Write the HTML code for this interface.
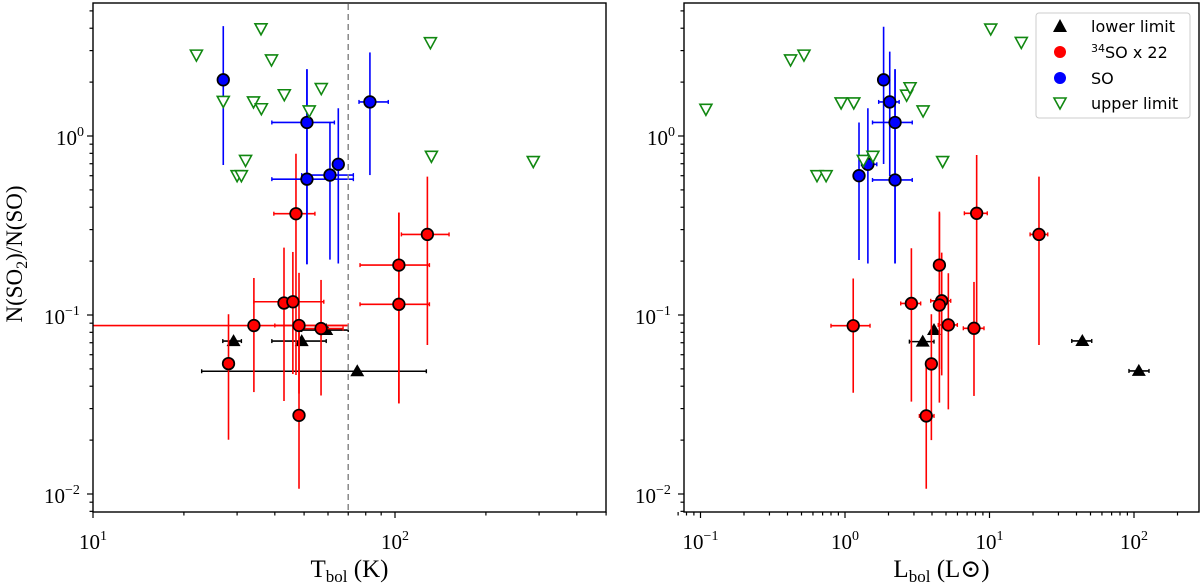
<!DOCTYPE html>
<html><head><meta charset="utf-8"><style>
html,body{margin:0;padding:0;background:#fff;}
svg{display:block;}
</style></head><body>
<svg id="chart" width="1200" height="588" xmlns="http://www.w3.org/2000/svg">
<defs>
<clipPath id="clipL"><rect x="93" y="3" width="513" height="509"/></clipPath>
<clipPath id="clipR"><rect x="684" y="3" width="515" height="509"/></clipPath>
</defs>
<g id="panelL"></g>
<g id="panelR"></g>
</svg>
<script>
// ---- Left panel data (Tbol) ----
const redT = [28.1,34.1,42.9,45.9,48.1,48.1,47.0,56.9,103,103,128];
const redTR = [0.0535,0.0873,0.1167,0.1186,0.0874,0.0275,0.368,0.0840,0.190,0.1148,0.282];
const redTlo = [null,5,null,34.1,40,null,39.7,49.1,76.6,76.6,105];
const redThi = [null,70,null,58.1,70,null,54.3,67.3,130,130,151];
const redTRlo = [0.0201,0.0371,0.0331,0.0468,0.0364,0.0107,0.0462,0.0355,0.0321,0.0321,0.068];
const redTRhi = [0.101,0.161,0.238,0.225,0.172,0.0868,0.796,0.157,0.373,0.373,0.593];
const blackT = [29.2,49.1,59.2,75.0];
const blackTR = [0.0715,0.0715,0.0824,0.0485];
const blackTlo = [26.9,39.1,49.1,22.9];
const blackThi = [31.0,59.2,70,127];
const blueT = [27.0,51.1,51.1,60.9,64.9,82.6];
const blueTR = [2.06,1.19,0.574,0.605,0.695,1.55];
const blueTlo = [null,39.1,39.1,49.1,null,76.0];
const blueThi = [null,63.0,72.8,72.8,null,95.0];
const blueTRlo = [0.689,0.192,0.192,0.204,0.194,0.605];
const blueTRhi = [4.11,2.36,2.36,1.20,1.43,2.93];
const greenT = [22,27,36,39,34,36.1,43,57,52,32,30,31,131,132,287];
const greenTR = [2.83,1.56,3.97,2.66,1.55,1.42,1.70,1.84,1.38,0.73,0.60,0.60,3.32,0.77,0.72];
const tbolLimit = 70;
// ---- Right panel data (Lbol) ----
const redL = [8.15,22.0,4.50,4.67,4.50,2.88,5.19,7.81,1.14,3.96,3.65];
const redLR = [0.370,0.282,0.190,0.120,0.1137,0.116,0.088,0.0843,0.0871,0.0533,0.0273];
const redLlo = [6.7,19.1,null,3.92,null,2.43,4.42,6.59,0.80,null,3.27];
const redLhi = [9.65,25.3,null,5.39,null,3.34,5.99,9.16,1.49,null,4.13];
const redLRlo = [0.085,0.068,0.05,0.046,0.0324,0.0328,0.0297,0.0353,0.0368,0.020,0.0107];
const redLRhi = [0.783,0.593,0.378,0.223,0.37,0.236,0.171,0.153,0.160,0.101,0.0537];
const blackL = [3.45,4.13,43.9,108];
const blackLR = [0.071,0.0824,0.0716,0.0487];
const blackLlo = [2.79,null,37.1,92.3];
const blackLhi = [4.13,null,51.0,127];
const blueL = [1.85,2.04,2.22,2.22,1.44,1.25];
const blueLR = [2.06,1.55,1.19,0.568,0.695,0.600];
const blueLlo = [null,1.71,1.55,1.55,1.30,null];
const blueLhi = [null,2.37,2.92,2.92,1.66,null];
const blueLRlo = [0.698,0.598,0.194,0.194,0.194,0.203];
const blueLRhi = [4.08,2.96,2.36,2.36,1.43,1.19];
const greenL = [0.109,0.42,0.52,0.94,1.15,0.64,0.74,1.34,1.56,2.67,2.82,3.47,4.74,10.2,16.6];
const greenLR = [1.41,2.66,2.83,1.53,1.53,0.60,0.60,0.73,0.77,1.69,1.86,1.38,0.72,3.96,3.33];
const xTicksL = [1,2];
const xTicksR = [-1,0,1,2];
const yTicks = [-2,-1,0];

const NS = "http://www.w3.org/2000/svg";
const lg = Math.log10;
const yScale = v => 136 - 179*lg(v);
const xScaleL = v => 93 + 302*(lg(v)-1);
const xScaleR = v => 845 + 144.5*lg(v);

function mk(tag, attrs, parent){
  const e = document.createElementNS(NS, tag);
  for (const k in attrs) e.setAttribute(k, attrs[k]);
  parent.appendChild(e);
  return e;
}

function drawPanel(g, box, xs, clipId, xTicks, xMinLog, xMaxLog, series, xTitle, xSub, xUnit){
  const [x0,y0,x1,y1] = box;
  const plot = mk('g', {'clip-path':'url(#'+clipId+')'}, g);
  
  
  series.forEach(s => {
    const sg = mk('g', {}, plot);
    
    
    for (let i=0;i<s.x.length;i++){
      const px = xs(s.x[i]), py = yScale(s.y[i]);
      if (s.ylo && s.ylo[i]!=null){
        const l = mk('line',{x1:px,x2:px,y1:yScale(s.ylo[i]),y2:yScale(s.yhi[i]),stroke:s.ecol,'stroke-width':1.6}, sg);
        
        
      }
      if (s.xlo && s.xlo[i]!=null){
        const a = xs(s.xlo[i]), b = xs(s.xhi[i]);
        const l = mk('line',{x1:a,x2:b,y1:py,y2:py,stroke:s.ecol,'stroke-width':1.6}, sg);
        
        
        mk('line',{x1:a,x2:a,y1:py-2,y2:py+2,stroke:s.ecol,'stroke-width':1.4}, sg);
        mk('line',{x1:b,x2:b,y1:py-2,y2:py+2,stroke:s.ecol,'stroke-width':1.4}, sg);
      }
    }
    for (let i=0;i<s.x.length;i++){
      const px = xs(s.x[i]), py = yScale(s.y[i]);
      let m;
      if (s.marker==='circle'){
        m = mk('circle',{cx:px,cy:py,r:5.8,fill:s.fill,stroke:'#000','stroke-width':1.7}, sg);
      } else if (s.marker==='up'){
        m = mk('polygon',{points:`${px},${py-7} ${px-7},${py+5} ${px+7},${py+5}`,fill:'#000'}, sg);
      } else {
        m = mk('polygon',{points:`${px-6},${py-5} ${px+6},${py-5} ${px},${py+6}`,fill:'#fff',stroke:'#118811','stroke-width':1.6}, sg);
      }
      
      
    }
  });
  const fr = mk('rect',{x:x0,y:y0,width:x1-x0,height:y1-y0,fill:'none',stroke:'#000','stroke-width':1.4}, g);
  
  
  for (let d=Math.floor(xMinLog); d<=Math.ceil(xMaxLog); d++){
    for (let k=1;k<10;k++){
      const lv = d + lg(k);
      if (lv < xMinLog-1e-6 || lv > xMaxLog+1e-6) continue;
      const px = xs(Math.pow(10,lv));
      mk('line',{x1:px,x2:px,y1:y1,y2:y1+(k===1?6:3.5),stroke:'#000','stroke-width':1.2}, g);
    }
  }
  xTicks.forEach(t => {
    const tx = mk('text',{x:xs(Math.pow(10,t)),y:y1+37,'text-anchor':'middle','font-family':'"Liberation Serif",serif','font-size':21}, g);
    
    
    tx.appendChild(document.createTextNode('10'));
    const sp = mk('tspan',{dy:-9,'font-size':14}, tx);
    sp.textContent = (t<0?'\u2212':'') + Math.abs(t);
  });
  for (let d=-3; d<=1; d++){
    for (let k=1;k<10;k++){
      const lv = d + lg(k);
      const py = 136 - 179*lv;
      if (py < y0-0.5 || py > y1+0.5) continue;
      mk('line',{x1:x0,x2:x0-(k===1?6:3.5),y1:py,y2:py,stroke:'#000','stroke-width':1.2}, g);
    }
  }
  yTicks.forEach(t => {
    const py = yScale(Math.pow(10,t));
    const tx = mk('text',{x:x0-(t<0?28:16),y:py+9,'text-anchor':'end','font-family':'"Liberation Serif",serif','font-size':21}, g);
    
    
    tx.appendChild(document.createTextNode('10'));
    const sp = mk('tspan',{x:x0-(t<0?28:16), dy:-9,'font-size':14,'text-anchor':'start'}, tx);
    sp.textContent = (t<0?'\u2212':'') + Math.abs(t);
  });
  const xt = mk('text',{x:(x0+x1)/2,y:577,'text-anchor':'middle','font-family':'"Liberation Serif","DejaVu Serif",serif','font-size':25}, g);
  
  
  xt.appendChild(document.createTextNode(xTitle));
  const sb = mk('tspan',{dy:5,'font-size':17}, xt); sb.textContent = xSub;
  const un = mk('tspan',{dy:-5}, xt); un.textContent = xUnit;
}

const gL = document.getElementById('panelL');
const gR = document.getElementById('panelR');

drawPanel(gL, [93,3,606,512], xScaleL, 'clipL', xTicksL, 1, 2.70, [
  {name:'lower-limit', x:blackT, y:blackTR, xlo:blackTlo, xhi:blackThi, marker:'up', ecol:'#000'},
  {name:'so34', x:redT, y:redTR, xlo:redTlo, xhi:redThi, ylo:redTRlo, yhi:redTRhi, marker:'circle', fill:'#ff0000', ecol:'#ff0000'},
  {name:'so', x:blueT, y:blueTR, xlo:blueTlo, xhi:blueThi, ylo:blueTRlo, yhi:blueTRhi, marker:'circle', fill:'#0000ff', ecol:'#0000ff'},
  {name:'upper-limit', x:greenT, y:greenTR, marker:'down'}
], 'T', 'bol', ' (K)');
const dl = mk('line',{x1:xScaleL(tbolLimit),x2:xScaleL(tbolLimit),y1:4,y2:511,stroke:'#888','stroke-width':1.5,'stroke-dasharray':'6,4'}, gL);



drawPanel(gR, [684,3,1199,512], xScaleR, 'clipR', xTicksR, lg(0.07), lg(300), [
  {name:'lower-limit', x:blackL, y:blackLR, xlo:blackLlo, xhi:blackLhi, marker:'up', ecol:'#000'},
  {name:'so34', x:redL, y:redLR, xlo:redLlo, xhi:redLhi, ylo:redLRlo, yhi:redLRhi, marker:'circle', fill:'#ff0000', ecol:'#ff0000'},
  {name:'so', x:blueL, y:blueLR, xlo:blueLlo, xhi:blueLhi, ylo:blueLRlo, yhi:blueLRhi, marker:'circle', fill:'#0000ff', ecol:'#0000ff'},
  {name:'upper-limit', x:greenL, y:greenLR, marker:'down'}
], 'L', 'bol', ' (L\u2299)');

const yt = mk('text',{x:0,y:0,transform:'translate(22,254) rotate(-90)','text-anchor':'middle','font-family':'"Liberation Serif",serif','font-size':23}, document.getElementById('chart'));


yt.appendChild(document.createTextNode('N(SO'));
const ys = mk('tspan',{dy:5,'font-size':16}, yt); ys.textContent='2';
const ys2 = mk('tspan',{dy:-5}, yt); ys2.textContent=')/N(SO)';

const leg = mk('g',{}, gR);


mk('rect',{x:1036,y:13,width:154,height:105,rx:3,fill:'#fff',stroke:'#ccc','stroke-width':1}, leg);
const legY = [26,52,78,103];
const lx = 1060, tx0 = 1091;
let e;
e = mk('polygon',{points:`${lx},${legY[0]-7} ${lx-7},${legY[0]+6} ${lx+7},${legY[0]+6}`,fill:'#000'}, leg);
 
e = mk('circle',{cx:lx,cy:legY[1],r:6,fill:'#ff0000'}, leg);
 
e = mk('circle',{cx:lx,cy:legY[2],r:6,fill:'#0000ff'}, leg);
 
e = mk('polygon',{points:`${lx-6},${legY[3]-5} ${lx+6},${legY[3]-5} ${lx},${legY[3]+6}`,fill:'#fff',stroke:'#118811','stroke-width':1.6}, leg);
 
const labels = ['lower limit', null, 'SO', 'upper limit'];
labels.forEach((t,i) => {
  const te = mk('text',{x:tx0,y:legY[i]+6,'font-family':'"DejaVu Sans",sans-serif','font-size':16}, leg);
  
  
  if (t) te.textContent = t;
  else {
    const s1 = mk('tspan',{dy:-6,'font-size':11}, te); s1.textContent='34';
    const s2 = mk('tspan',{dy:6}, te); s2.textContent='SO x 22';
  }
});
</script>
</body></html>
